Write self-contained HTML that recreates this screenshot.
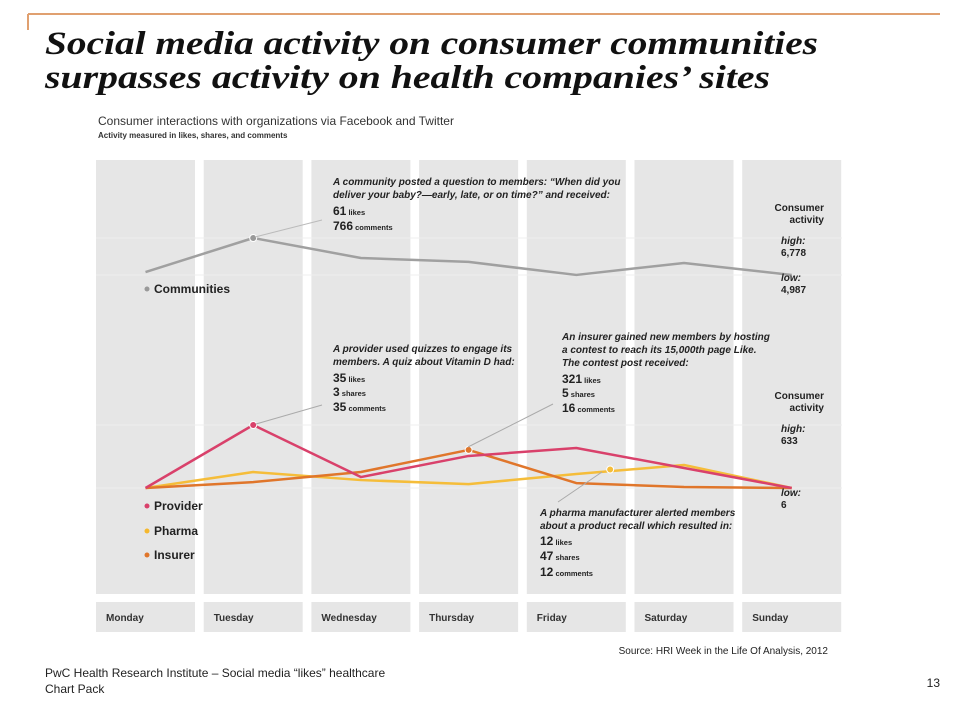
<!DOCTYPE html>
<html><head><meta charset="utf-8"><style>
html,body{margin:0;padding:0;background:#fff;}
svg{display:block;font-family:"Liberation Sans",sans-serif;}
.a{font-style:italic;font-weight:bold;font-size:10px;fill:#222;}
.n{font-weight:bold;font-size:12px;fill:#222;}
.s{font-weight:bold;font-size:7.5px;fill:#222;}
.r{font-size:10px;fill:#222;font-weight:bold;}
.ri{font-size:10px;fill:#222;font-weight:bold;font-style:italic;}
.day{font-size:10px;font-weight:bold;fill:#333;}
</style></head><body>
<svg id="chart" width="964" height="702" viewBox="0 0 964 702">
<line x1="28" y1="14" x2="940" y2="14" stroke="#e0a070" stroke-width="2"/>
<line x1="28" y1="14" x2="28" y2="30" stroke="#e0a070" stroke-width="2"/>
<text x="45" y="54" font-family="Liberation Serif,serif" font-weight="bold" font-style="italic" font-size="33" fill="#111" textLength="773" lengthAdjust="spacingAndGlyphs">Social media activity on consumer communities</text>
<text x="45" y="88" font-family="Liberation Serif,serif" font-weight="bold" font-style="italic" font-size="33" fill="#111" textLength="725" lengthAdjust="spacingAndGlyphs">surpasses activity on health companies’ sites</text>
<text x="98" y="125" font-size="12" fill="#333">Consumer interactions with organizations via Facebook and Twitter</text>
<text x="98" y="138" font-size="8" font-weight="bold" fill="#333">Activity measured in likes, shares, and comments</text>
<g id="cols"></g>
<g id="grid"></g>
<g id="lines"></g>
<g>
<text class="a" x="333" y="185">A community posted a question to members: “When did you</text>
<text class="a" x="333" y="198">deliver your baby?—early, late, or on time?” and received:</text>
<text x="333" y="215"><tspan class="n">61</tspan><tspan class="s"> likes</tspan></text>
<text x="333" y="230"><tspan class="n">766</tspan><tspan class="s"> comments</tspan></text>
<line x1="255" y1="237" x2="322" y2="220" stroke="#bbb" stroke-width="1"/>
<text class="a" x="333" y="352">A provider used quizzes to engage its</text>
<text class="a" x="333" y="365">members. A quiz about Vitamin D had:</text>
<text x="333" y="382"><tspan class="n">35</tspan><tspan class="s"> likes</tspan></text>
<text x="333" y="396"><tspan class="n">3</tspan><tspan class="s"> shares</tspan></text>
<text x="333" y="411"><tspan class="n">35</tspan><tspan class="s"> comments</tspan></text>
<line x1="256" y1="424" x2="322" y2="405" stroke="#aaa" stroke-width="1"/>
<text class="a" x="562" y="340">An insurer gained new members by hosting</text>
<text class="a" x="562" y="353">a contest to reach its 15,000th page Like.</text>
<text class="a" x="562" y="366">The contest post received:</text>
<text x="562" y="383"><tspan class="n">321</tspan><tspan class="s"> likes</tspan></text>
<text x="562" y="397"><tspan class="n">5</tspan><tspan class="s"> shares</tspan></text>
<text x="562" y="412"><tspan class="n">16</tspan><tspan class="s"> comments</tspan></text>
<line x1="468" y1="447" x2="553" y2="404" stroke="#aaa" stroke-width="1"/>
<text class="a" x="540" y="516">A pharma manufacturer alerted members</text>
<text class="a" x="540" y="529">about a product recall which resulted in:</text>
<text x="540" y="545"><tspan class="n">12</tspan><tspan class="s"> likes</tspan></text>
<text x="540" y="560"><tspan class="n">47</tspan><tspan class="s"> shares</tspan></text>
<text x="540" y="576"><tspan class="n">12</tspan><tspan class="s"> comments</tspan></text>
<line x1="602" y1="472" x2="558" y2="502" stroke="#aaa" stroke-width="1"/>
<text class="r" x="824" y="211" text-anchor="end">Consumer</text>
<text class="r" x="824" y="223" text-anchor="end">activity</text>
<text class="ri" x="781" y="244">high:</text>
<text class="r" x="781" y="256">6,778</text>
<text class="ri" x="781" y="281">low:</text>
<text class="r" x="781" y="293">4,987</text>
<text class="r" x="824" y="399" text-anchor="end">Consumer</text>
<text class="r" x="824" y="411" text-anchor="end">activity</text>
<text class="ri" x="781" y="432">high:</text>
<text class="r" x="781" y="444">633</text>
<text class="ri" x="781" y="496">low:</text>
<text class="r" x="781" y="508">6</text>
</g>
<g>
<circle cx="147" cy="289" r="2.5" fill="#999"/><text x="154" y="293" font-size="12" font-weight="bold" fill="#222">Communities</text>
<circle cx="147" cy="506" r="2.5" fill="#d9416b"/><text x="154" y="510" font-size="12" font-weight="bold" fill="#222">Provider</text>
<circle cx="147" cy="531" r="2.5" fill="#f5b82e"/><text x="154" y="535" font-size="12" font-weight="bold" fill="#222">Pharma</text>
<circle cx="147" cy="555" r="2.5" fill="#e0762b"/><text x="154" y="559" font-size="12" font-weight="bold" fill="#222">Insurer</text>
</g>
<text x="828" y="654" font-size="10" fill="#222" text-anchor="end">Source: HRI Week in the Life Of Analysis, 2012</text>
<text x="45" y="677" font-size="12" fill="#222">PwC Health Research Institute – Social media “likes” healthcare</text>
<text x="45" y="693" font-size="12" fill="#222">Chart Pack</text>
<text x="940" y="687" font-size="12" fill="#222" text-anchor="end">13</text>
</svg>
<script>
const days = ["Monday","Tuesday","Wednesday","Thursday","Friday","Saturday","Sunday"];
const communities = [5130, 6778, 5810, 5620, 4990, 5570, 4987];
const provider = [6, 633, 115, 325, 404, 205, 6];
const pharma = [6, 165, 85, 45, 145, 235, 6];
const insurer = [6, 65, 165, 385, 55, 16, 6];
const NS = "http://www.w3.org/2000/svg";
const colLeft = 96, pitch = 107.7, colW = 99;
function xAt(i){ return colLeft + i*pitch + colW/2; }
function yComm(v){ return 275 - (v-4987)/(6778-4987)*37; }
function yLow(v){ return 488 - (v-6)/(633-6)*63; }
function mk(tag, attrs, parent){ const e=document.createElementNS(NS,tag); for(const k in attrs) e.setAttribute(k, attrs[k]); parent.appendChild(e); return e; }
const cols = document.getElementById('cols');
days.forEach((d,i)=>{
  const x = colLeft + i*pitch;
  const r = mk('rect',{x:x,y:160,width:colW,height:434,fill:'#e6e6e6'},cols);
  
  
  const b = mk('rect',{x:x,y:602,width:colW,height:30,fill:'#e6e6e6'},cols);
  
  
  const t = mk('text',{x:x+10,y:621,'class':'day'},cols);
  t.textContent = d;
  
  
});
const grid = document.getElementById('grid');
[yComm(6778), yComm(4987), yLow(633), yLow(6)].forEach(y=>{
  const l = mk('line',{x1:96,x2:842,y1:y,y2:y,stroke:'#efefef','stroke-width':1},grid);
  
  
});
const lines = document.getElementById('lines');
function series(vals, yf, color, name, w){
  const pts = vals.map((v,i)=>xAt(i)+','+yf(v)).join(' ');
  const p = mk('polyline',{points:pts,fill:'none',stroke:color,'stroke-width':w,'stroke-linejoin':'round'},lines);
  
  
}
series(communities, yComm, '#a0a0a0', 'communities-line', 2.5);
series(pharma, yLow, '#f5bd3a', 'pharma-line', 2.5);
series(insurer, yLow, '#e0762b', 'insurer-line', 2.5);
series(provider, yLow, '#d9416b', 'provider-line', 2.5);
function dot(x,y,c,name){
  const d = mk('circle',{cx:x,cy:y,r:3.5,fill:c,stroke:'#fff','stroke-width':1},lines);
  
  
}
dot(xAt(1), yComm(communities[1]), '#999', 'communities-highlight-dot');
dot(xAt(1), yLow(provider[1]), '#d9416b', 'provider-highlight-dot');
dot(xAt(3), yLow(insurer[3]), '#e0762b', 'insurer-highlight-dot');
dot((xAt(4)+xAt(5))/2-20, yLow((pharma[4]+pharma[5])/2), '#f5bd3a', 'pharma-highlight-dot');
</script>
</body></html>
